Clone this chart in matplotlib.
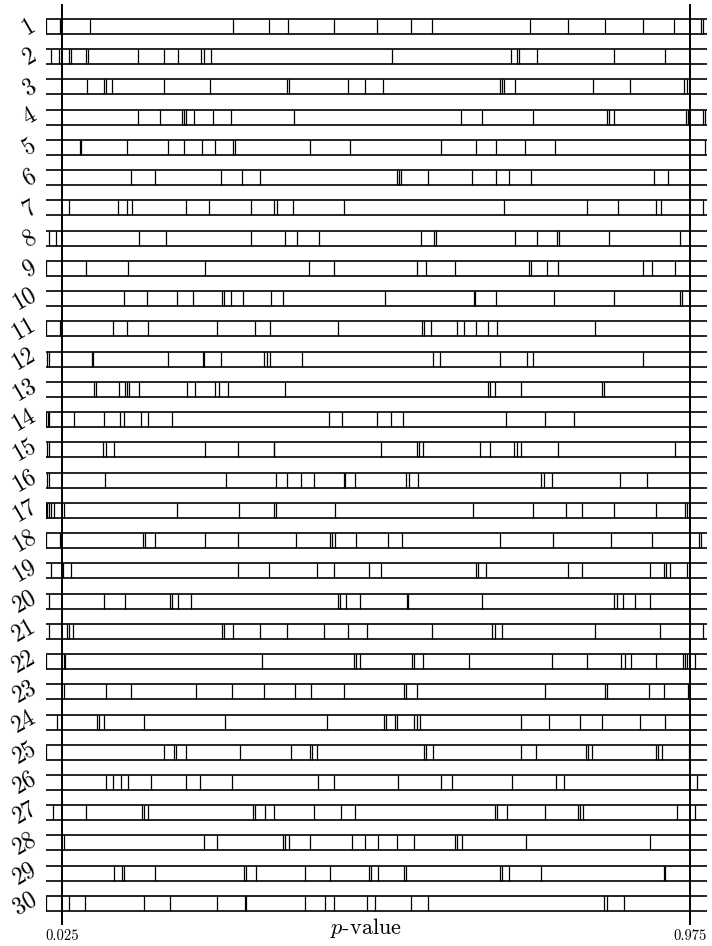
import matplotlib
matplotlib.use("Agg")
import matplotlib.pyplot as plt

plt.rcParams['font.family'] = 'serif'
plt.rcParams['font.serif'] = ['cmr10']
plt.rcParams['mathtext.fontset'] = 'cm'
plt.rcParams['axes.formatter.use_mathtext'] = True

# p-values for each of the 30 rows
r1 = [0.000, 0.022, 0.068, 0.284, 0.338, 0.367, 0.437, 0.501, 0.553, 0.585, 0.733, 0.790, 0.847, 0.904, 0.951, 0.991, 0.994]
r2 = [0.008, 0.021, 0.036, 0.039, 0.061, 0.064, 0.140, 0.180, 0.201, 0.236, 0.240, 0.250, 0.524, 0.704, 0.713, 0.716, 0.744, 0.860, 0.937]
r3 = [0.063, 0.089, 0.092, 0.100, 0.179, 0.249, 0.365, 0.368, 0.457, 0.484, 0.510, 0.688, 0.690, 0.694, 0.710, 0.828, 0.885, 0.966, 0.970]
r4 = [0.140, 0.173, 0.207, 0.210, 0.213, 0.224, 0.253, 0.280, 0.376, 0.629, 0.660, 0.738, 0.849, 0.852, 0.860, 0.969, 0.972, 0.995, 0.998]
r5 = [0.052, 0.054, 0.123, 0.185, 0.210, 0.237, 0.257, 0.283, 0.286, 0.400, 0.461, 0.598, 0.651, 0.681, 0.726, 0.771, 0.998]
r6 = [0.129, 0.166, 0.266, 0.297, 0.325, 0.532, 0.535, 0.538, 0.578, 0.645, 0.681, 0.701, 0.735, 0.920, 0.941]
r7 = [0.035, 0.109, 0.123, 0.131, 0.213, 0.247, 0.311, 0.346, 0.350, 0.374, 0.451, 0.694, 0.819, 0.866, 0.924, 0.931, 0.994]
r8 = [0.006, 0.016, 0.142, 0.183, 0.311, 0.363, 0.380, 0.414, 0.568, 0.588, 0.591, 0.711, 0.743, 0.774, 0.777, 0.852, 0.960]
r9 = [0.000, 0.061, 0.125, 0.241, 0.398, 0.437, 0.562, 0.575, 0.619, 0.732, 0.735, 0.758, 0.775, 0.904, 0.918, 0.952]
r10 = [0.119, 0.153, 0.199, 0.223, 0.267, 0.270, 0.281, 0.299, 0.341, 0.359, 0.514, 0.648, 0.650, 0.681, 0.769, 0.860, 0.960, 0.963]
r11 = [0.000, 0.022, 0.102, 0.124, 0.155, 0.260, 0.317, 0.340, 0.443, 0.570, 0.573, 0.583, 0.623, 0.633, 0.652, 0.669, 0.683, 0.831]
r12 = [0.002, 0.006, 0.070, 0.072, 0.186, 0.238, 0.240, 0.265, 0.330, 0.335, 0.339, 0.388, 0.586, 0.597, 0.687, 0.729, 0.737, 0.904]
r13 = [0.074, 0.076, 0.111, 0.121, 0.123, 0.127, 0.142, 0.214, 0.226, 0.257, 0.262, 0.276, 0.363, 0.670, 0.673, 0.680, 0.719, 0.842, 0.845]
r14 = [0.001, 0.004, 0.006, 0.043, 0.089, 0.113, 0.119, 0.145, 0.155, 0.191, 0.429, 0.448, 0.501, 0.523, 0.541, 0.696, 0.756, 0.800]
r15 = [0.002, 0.006, 0.087, 0.092, 0.103, 0.242, 0.291, 0.345, 0.346, 0.508, 0.562, 0.565, 0.571, 0.657, 0.672, 0.709, 0.713, 0.719, 0.775, 0.952]
r16 = [0.002, 0.006, 0.090, 0.273, 0.348, 0.366, 0.387, 0.406, 0.451, 0.453, 0.468, 0.545, 0.550, 0.564, 0.750, 0.754, 0.766, 0.869, 0.910]
r17 = [0.000, 0.002, 0.006, 0.009, 0.013, 0.028, 0.199, 0.293, 0.345, 0.348, 0.438, 0.646, 0.737, 0.787, 0.811, 0.860, 0.924, 0.967, 0.970]
r18 = [0.000, 0.022, 0.147, 0.150, 0.165, 0.242, 0.291, 0.379, 0.431, 0.434, 0.438, 0.469, 0.518, 0.539, 0.688, 0.768, 0.855, 0.918, 0.989, 0.992]
r19 = [0.009, 0.027, 0.038, 0.291, 0.338, 0.411, 0.437, 0.490, 0.508, 0.651, 0.654, 0.667, 0.790, 0.811, 0.915, 0.936, 0.939, 0.945, 0.970]
r20 = [0.006, 0.089, 0.120, 0.188, 0.192, 0.201, 0.220, 0.442, 0.445, 0.455, 0.476, 0.547, 0.549, 0.660, 0.860, 0.864, 0.873, 0.892, 0.915]
r21 = [0.006, 0.032, 0.035, 0.042, 0.267, 0.270, 0.284, 0.325, 0.365, 0.422, 0.458, 0.487, 0.584, 0.676, 0.680, 0.690, 0.832, 0.929, 0.994]
r22 = [0.000, 0.028, 0.030, 0.327, 0.466, 0.470, 0.476, 0.554, 0.557, 0.571, 0.641, 0.766, 0.819, 0.871, 0.876, 0.886, 0.924, 0.965, 0.968, 0.971, 0.983]
r23 = [0.028, 0.092, 0.129, 0.228, 0.282, 0.330, 0.378, 0.402, 0.451, 0.542, 0.545, 0.562, 0.756, 0.847, 0.850, 0.913, 0.936, 0.972]
r24 = [0.017, 0.078, 0.081, 0.089, 0.149, 0.272, 0.426, 0.512, 0.515, 0.528, 0.532, 0.558, 0.562, 0.567, 0.719, 0.761, 0.808, 0.842, 0.900, 0.937]
r25 = [0.000, 0.179, 0.194, 0.197, 0.212, 0.295, 0.372, 0.400, 0.403, 0.411, 0.573, 0.576, 0.586, 0.720, 0.742, 0.818, 0.821, 0.827, 0.923, 0.926, 0.933, 0.973]
r26 = [0.092, 0.102, 0.114, 0.125, 0.160, 0.212, 0.234, 0.282, 0.413, 0.437, 0.534, 0.599, 0.615, 0.706, 0.772, 0.785, 0.986]
r27 = [0.011, 0.061, 0.146, 0.149, 0.155, 0.314, 0.317, 0.332, 0.346, 0.406, 0.447, 0.468, 0.680, 0.683, 0.698, 0.755, 0.805, 0.808, 0.813, 0.955, 0.983]
r28 = [0.028, 0.240, 0.259, 0.359, 0.363, 0.369, 0.400, 0.463, 0.483, 0.503, 0.532, 0.558, 0.620, 0.623, 0.630, 0.727, 0.915]
r29 = [0.104, 0.116, 0.119, 0.166, 0.301, 0.304, 0.319, 0.392, 0.431, 0.489, 0.492, 0.503, 0.543, 0.545, 0.688, 0.690, 0.701, 0.750, 0.935, 0.937]
r30 = [0.000, 0.036, 0.060, 0.149, 0.189, 0.259, 0.302, 0.304, 0.393, 0.423, 0.437, 0.486, 0.499, 0.553, 0.578, 0.845, 0.849, 0.875]

rows = [r1, r2, r3, r4, r5, r6, r7, r8, r9, r10, r11, r12, r13, r14, r15,
        r16, r17, r18, r19, r20, r21, r22, r23, r24, r25, r26, r27, r28, r29, r30]
row_labels = [str(i) for i in range(1, 31)]
cutoffs = [0.025, 0.975]
cutoff_labels = ["0.025", "0.975"]

fig = plt.figure(figsize=(7.12, 9.46), dpi=100)
ax = fig.add_axes([45.5 / 712, 0, 661 / 712, 1])
ax.set_xlim(0, 1)
ax.set_ylim(31.407, 0.1237)
ax.axis("off")

h = 0.248  # half height of each strip
for i, pv in enumerate(rows):
    y = i + 1
    ax.hlines([y - h, y + h], 0, 1, colors="black", lw=1.2)
    ax.vlines(pv, y - h, y + h, colors="black", lw=0.9)
    ax.text(-0.008, y, row_labels[i], rotation=30, ha="right", va="center",
            fontsize=17, clip_on=False)

ax.vlines(cutoffs, 0.256, 30.71, colors="black", lw=1.4)
for c, lab in zip(cutoffs, cutoff_labels):
    ax.text(c, 31.08, lab, ha="center", va="center", fontsize=10.5)

ax.text(0.485, 30.80, r"$p$-value", ha="center", va="center", fontsize=16)

fig.savefig("out.png", dpi=100)
